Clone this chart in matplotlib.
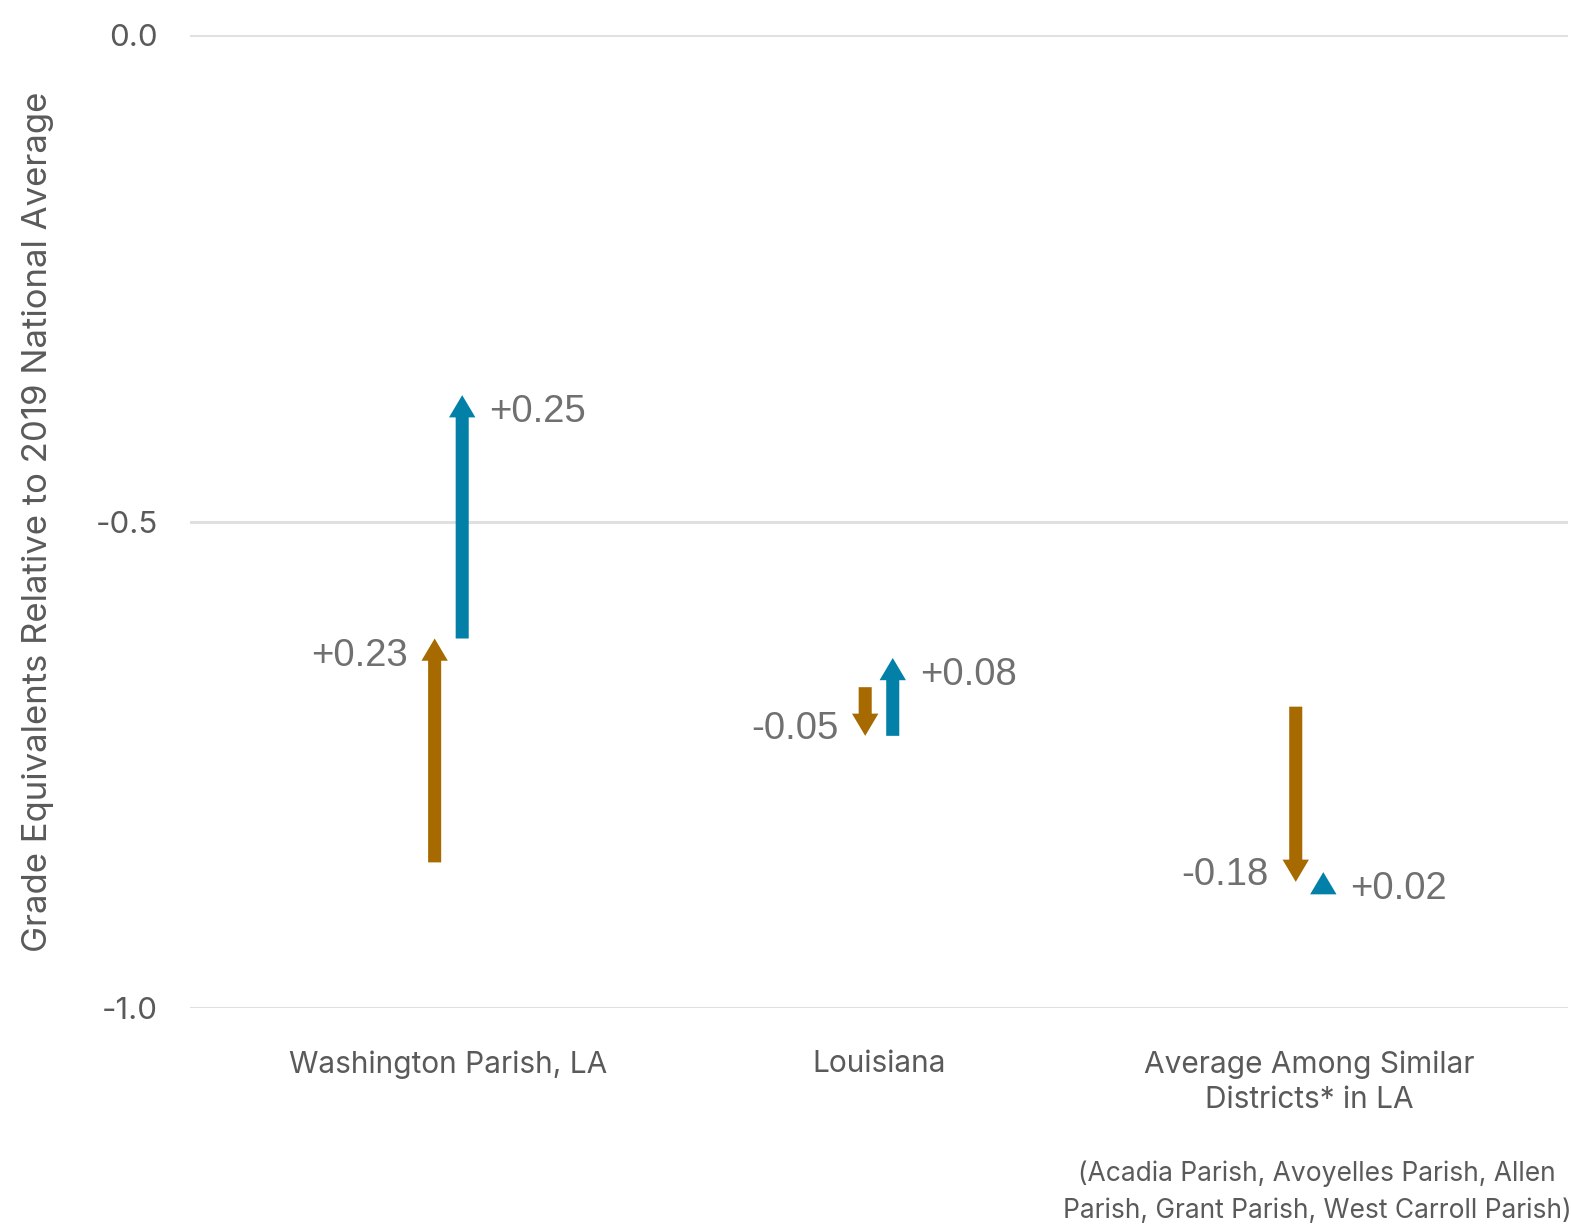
import matplotlib
matplotlib.use("Agg")
import matplotlib.pyplot as plt
from matplotlib.patches import FancyArrowPatch, ArrowStyle

# data
categories = ["Washington Parish, LA", "Louisiana", "Average Among Similar\nDistricts* in LA"]
brown_start = [-0.85, -0.67, -0.69]
brown_end = [-0.62, -0.72, -0.87]
blue_start = [-0.62, -0.72, -0.88]
blue_end = [-0.37, -0.64, -0.86]
brown_labels = ["+0.23", "-0.05", "-0.18"]
blue_labels = ["+0.25", "+0.08", "+0.02"]
yticks = [0.0, -0.5, -1.0]
footnote = "(Acadia Parish, Avoyelles Parish, Allen\nParish, Grant Parish, West Carroll Parish)"

BROWN = "#a66a00"
BLUE = "#0280a8"
TEXT = "#5a5a5a"
LABEL = "#707070"

plt.rcParams['font.family'] = ['Inter', 'DejaVu Sans']

fig = plt.figure(figsize=(15.71, 12.29), dpi=100)
ax = fig.add_axes([0.121, 0.1795, 0.877, 0.792])
ax.set_xlim(-0.6, 2.6)
ax.set_ylim(-1.0, 0.0)

for s in ax.spines.values():
    s.set_visible(False)
ax.set_yticks(yticks)
ax.set_yticklabels(["0.0", "-0.5", "-1.0"])
ax.yaxis.grid(True, color="#e0e0e0", linewidth=2.2)
ax.set_axisbelow(True)
ax.tick_params(axis='y', length=0, pad=23, labelsize=22.5, labelcolor=TEXT)
ax.set_xticks(range(len(categories)))
ax.set_xticklabels(categories, linespacing=1.35)
ax.tick_params(axis='x', length=0, pad=30, labelsize=21.5, labelcolor=TEXT)
ax.set_ylabel("Grade Equivalents Relative to 2019 National Average",
              fontsize=25, color=TEXT, labelpad=30)

style = ArrowStyle.Simple(head_length=16, head_width=19, tail_width=9.4)
dx = 0.032  # horizontal offset of the two arrows from category center


def draw_arrow(x, y0, y1, color, label, side):
    arr = FancyArrowPatch((x, y0), (x, y1), arrowstyle=style, mutation_scale=1,
                          color=color, shrinkA=0, shrinkB=0, linewidth=0)
    ax.add_patch(arr)
    up = y1 > y0
    ax.annotate(label, (x, y1), textcoords='offset pixels',
                xytext=(27 * side, -17 if up else 7),
                ha='left' if side > 0 else 'right', va='center',
                fontsize=27.5, color=LABEL, family=['Liberation Sans', 'DejaVu Sans'])


for i in range(len(categories)):
    draw_arrow(i - dx, brown_start[i], brown_end[i], BROWN, brown_labels[i], -1)
    draw_arrow(i + dx, blue_start[i], blue_end[i], BLUE, blue_labels[i], 1)

fig.text(1317 / 1571, 1 - 1192 / 1229, footnote, ha='center', va='center',
         fontsize=19, color=TEXT, linespacing=1.55)

fig.savefig("out.png", dpi=100, facecolor="white")
